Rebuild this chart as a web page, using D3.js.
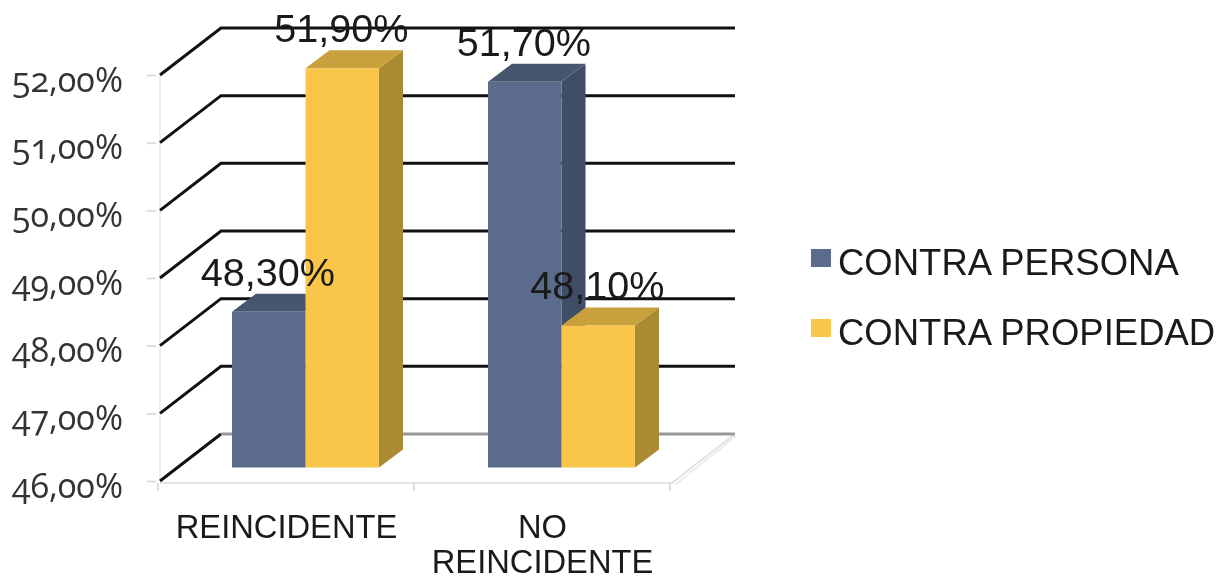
<!DOCTYPE html>
<html><head><meta charset="utf-8">
<script src="https://cdnjs.cloudflare.com/ajax/libs/d3/7.8.5/d3.min.js"></script>
<style>
html,body{margin:0;padding:0;background:#fff}
svg{display:block;filter:blur(0.6px)}
text{font-family:"Liberation Sans",Arial,sans-serif;fill:#1a1a1a}
.ytick text{font-family:"Open Sans",sans-serif;font-feature-settings:"onum";fill:#333}
</style></head><body>
<svg id="c" width="1227" height="577"></svg>
<script>
const categories=[["REINCIDENTE"],["NO","REINCIDENTE"]];
const seriesNames=["CONTRA PERSONA","CONTRA PROPIEDAD"];
const contraPersona=[48.3,51.7];
const contraPropiedad=[51.9,48.1];
const valueLabels=[["48,30%","51,70%"],["51,90%","48,10%"]];
const yTicks=[46,47,48,49,50,51,52];
const frontColors=["#5b6b8c","#f9c54a"];
const topColors=["#47566f","#c8a03c"];
const sideColors=["#3f4d66","#aa8a32"];

const svg=d3.select("#c");
const x0=160,x1=672,yB=481,yT=75;
const dx=61,dy=-47;
const barDx=17.5,barDy=-13.5,barDepthX=24,barDepthY=-18;
const y=d3.scaleLinear().domain([46,52]).range([yB,yT]);
const xBand=d3.scaleBand().domain(d3.range(categories.length)).range([x0,x1]);
const xSub=d3.scaleBand().domain([0,1]).range([0,147]);

// walls / floor
const wall=svg.append("g").attr("fill","none");
wall.append("path").attr("d",`M${x0},${yT}V${yB}`).attr("stroke","#eee").attr("stroke-width",2);
wall.append("path").attr("d",`M${x0},${yB+2}H${x1}L${x1+dx+2},${yB+dy}`).attr("stroke","#e2e2e2").attr("stroke-width",2);
wall.append("path").attr("d",`M${x1+3},${yB+4}L${x1+dx+3},${yB+dy+2}`).attr("stroke","#e6e6e6").attr("stroke-width",1.5);

// axis ticks
const yAxis=d3.axisLeft(y).tickValues(yTicks).tickSize(9).tickPadding(0)
  .tickFormat(d=>d3.format(".2f")(d).replace(".",",")+"%");
const yg=svg.append("g").attr("class","ytick").attr("transform",`translate(${x0-4},0)`).call(yAxis);
yg.select(".domain").remove();
yg.selectAll("line").attr("stroke","#ddd").attr("stroke-width",2);
yg.selectAll("text").attr("x",-33).attr("dy",16).attr("font-size",34).attr("text-anchor","end")
  .style("font-size","34px");

const xTickVals=[0,1,2].map(i=>x0+i*xBand.step()-2);
svg.append("g").selectAll("line").data(xTickVals).join("line")
  .attr("x1",d=>d).attr("x2",d=>d).attr("y1",yB+2).attr("y2",yB+10)
  .attr("stroke","#ddd").attr("stroke-width",2);

// gridlines
svg.append("g").selectAll("path").data(yTicks).join("path")
  .attr("fill","none").attr("stroke-width",3)
  .attr("stroke","#111")
  .attr("d",d=>`M${x0},${y(d)}L${x0+dx},${y(d)+dy}`+(d===46?"":`H${x1+dx+2}`));
svg.append("path").attr("fill","none").attr("stroke","#999").attr("stroke-width",3)
  .attr("d",`M${x0+dx},${y(46)+dy}H${x1+dx+2}`);

// bars
const series=[contraPersona,contraPropiedad];
const bars=[];
categories.forEach((c,i)=>series.forEach((s,j)=>bars.push({i,j,v:s[i]})));
const bx=d=>xBand(d.i)+xBand.step()/2+barDx-73.5+xSub(d.j);
const w=xSub.bandwidth();
const base=y(46)+barDy;
const vy=v=>y(v)+barDy;
const g=svg.append("g").selectAll("g").data(bars).join("g");
g.append("path").attr("fill",d=>sideColors[d.j])
  .attr("d",d=>`M${bx(d)+w},${vy(d.v)}l${barDepthX},${barDepthY}V${base+barDepthY}l${-barDepthX},${-barDepthY}Z`);
g.append("path").attr("fill",d=>topColors[d.j])
  .attr("d",d=>`M${bx(d)},${vy(d.v)}l${barDepthX},${barDepthY}h${w}l${-barDepthX},${-barDepthY}Z`);
g.append("rect").attr("fill",d=>frontColors[d.j])
  .attr("x",d=>bx(d)).attr("y",d=>vy(d.v)).attr("width",w).attr("height",d=>base-vy(d.v));

// value labels
svg.append("g").selectAll("text").data(bars).join("text")
  .attr("text-anchor","middle").attr("font-size",39.6)
  .attr("x",d=>bx(d)+w/2-1).attr("y",d=>vy(d.v)-26)
  .text(d=>valueLabels[d.j][d.i]);

// category labels
const cat=svg.append("g").selectAll("text").data(categories).join("text")
  .attr("text-anchor","middle").attr("font-size",32.7)
  .attr("transform",(d,i)=>`translate(${xBand(i)+xBand.step()/2-1.5},538)`);
cat.selectAll("tspan").data(d=>d).join("tspan")
  .attr("x",0).attr("y",(d,i)=>i*35).text(d=>d);

// legend
const leg=svg.append("g").selectAll("g").data(seriesNames).join("g")
  .attr("transform",(d,i)=>`translate(811,${249+i*70})`);
leg.append("rect").attr("width",20).attr("height",18).attr("fill",(d,i)=>frontColors[i]);
leg.append("text").attr("x",27).attr("y",26).attr("font-size",36.5).text(d=>d);
</script></body></html>
